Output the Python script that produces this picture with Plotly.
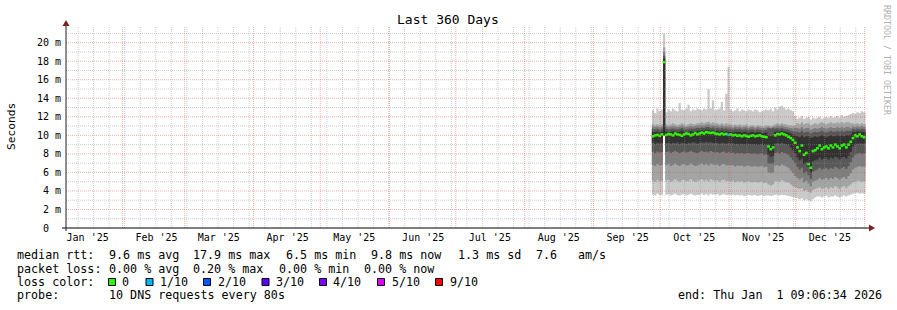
import plotly.graph_objects as go
import pandas as pd

# ---------------- data (values in milliseconds) ----------------
first_sample = "2025-09-27 06:00"          # first consolidated (daily) sample
end_time = "2026-01-01 09:06:34"
axis_start = "2025-01-06 14:24"
axis_end = "2026-01-01 14:24"

median_ms = [
    9.9, 10.0, 10.05, 9.95, 10.1,
    17.9,
    10.05, 10.15, 10.1, 10.0, 10.2, 10.1, 10.05, 9.95, 10.1, 10.2, 10.15, 10.0, 10.1, 10.25, 10.1,
    10.2, 10.3, 10.2, 10.35, 10.3, 10.25, 10.3,
    10.2, 10.15, 10.1, 10.2, 10.1, 10.15, 10.05,
    10.1, 10.0, 10.05, 9.95, 10.0, 9.9, 10.0, 9.95, 9.85, 9.95,
    10.0, 9.9, 9.95, 10.0, 9.9, 9.85, 9.8,
    8.8, 8.5, 8.7,
    10.0, 10.15, 10.1, 10.2, 10.1, 10.0,
    9.85, 9.7, 9.5, 9.2,
    8.7, 8.3, 8.9, 7.9, 8.1,
    6.9, 6.5, 8.3,
    8.4, 8.6, 8.9, 8.5, 8.7, 8.8, 8.6, 8.9, 8.7, 9.0, 8.8, 8.6, 8.9, 9.0, 8.7, 9.0, 9.3,
    9.7, 10.0, 9.9, 10.1, 9.9, 9.8,
]

# sorted-ping smoke boundaries, p1 = lowest ... p10 = highest
p10 = [
    12.7, 12.4, 12.9, 12.6, 12.8,
    21.0,
    12.5, 12.8, 12.6, 12.9, 12.7, 12.6, 13.5, 12.8, 12.7, 12.9, 13.3, 12.6, 12.8, 12.7, 12.9,
    12.8, 12.7, 12.9, 12.8, 15.0, 12.9, 13.8,
    12.7, 12.8, 12.9, 13.6, 12.7, 14.5, 17.4,
    12.8, 12.6, 12.7, 12.9, 12.6, 12.8, 12.7, 12.6, 12.8, 12.7,
    12.6, 12.8, 12.7, 12.5, 12.6, 12.7, 12.8,
    12.7, 12.9, 12.6,
    13.0, 12.8, 13.1, 13.2, 13.0, 12.8,
    12.9, 12.7, 12.6, 12.1,
    11.8, 11.9, 12.1, 11.8, 11.9,
    12.0, 11.7, 11.9,
    11.8, 11.9, 12.0, 11.8, 11.9, 12.0, 11.9, 12.1, 11.9, 12.0, 12.1, 11.9, 12.2, 12.0, 12.1, 12.2, 12.3,
    12.4, 12.3, 12.5, 12.4, 12.6, 12.5,
]
p9 = [
    11.2, 11.1, 11.2, 11.1, 11.2,
    19.5,
    11.2, 11.1, 11.2, 11.3, 11.2, 11.1, 11.2, 11.3, 11.2, 11.1, 11.2, 11.3, 11.2, 11.2, 11.3,
    11.3, 11.4, 11.3, 11.4, 11.5, 11.3, 11.4,
    11.3, 11.3, 11.2, 11.3, 11.2, 11.3, 11.2,
    11.2, 11.1, 11.2, 11.1, 11.2, 11.1, 11.1, 11.2, 11.0, 11.1,
    11.1, 11.0, 11.1, 11.1, 11.0, 11.0, 11.1,
    11.1, 11.0, 11.1,
    11.2, 11.3, 11.2, 11.3, 11.2, 11.2,
    11.1, 11.1, 11.0, 11.1,
    11.3, 11.2, 11.4, 11.2, 11.3,
    11.3, 11.1, 11.2,
    11.3, 11.2, 11.3, 11.4, 11.3, 11.2, 11.3, 11.4, 11.3, 11.3, 11.4, 11.3, 11.4, 11.3, 11.4, 11.4, 11.3,
    11.3, 11.2, 11.3, 11.2, 11.3, 11.2,
]
p8 = [
    10.95, 10.9, 10.95, 10.85, 10.95,
    19.0,
    10.95, 10.9, 10.95, 11.0, 10.95, 10.9, 10.95, 11.05, 10.95, 10.9, 10.95, 11.0, 10.95, 11.0, 11.05,
    11.05, 11.1, 11.05, 11.15, 11.2, 11.05, 11.1,
    11.0, 11.05, 10.95, 11.05, 10.95, 11.0, 10.95,
    10.95, 10.85, 10.95, 10.9, 10.95, 10.85, 10.9, 10.95, 10.8, 10.9,
    10.9, 10.8, 10.9, 10.85, 10.8, 10.8, 10.85,
    10.9, 10.8, 10.9,
    10.95, 11.05, 10.95, 11.05, 10.95, 10.9,
    10.85, 10.8, 10.75, 10.8,
    10.8, 10.7, 10.9, 10.7, 10.8,
    10.8, 10.6, 10.7,
    10.8, 10.7, 10.8, 10.9, 10.8, 10.7, 10.8, 10.9, 10.8, 10.8, 10.9, 10.8, 10.9, 10.8, 10.9, 10.9, 10.8,
    10.95, 10.9, 11.0, 10.9, 11.0, 10.9,
]
p7 = [
    10.7, 10.65, 10.7, 10.6, 10.7,
    18.6,
    10.7, 10.65, 10.7, 10.75, 10.7, 10.65, 10.7, 10.8, 10.7, 10.65, 10.7, 10.75, 10.7, 10.75, 10.8,
    10.8, 10.85, 10.8, 10.9, 10.9, 10.8, 10.85,
    10.75, 10.8, 10.7, 10.8, 10.7, 10.75, 10.7,
    10.7, 10.6, 10.7, 10.65, 10.7, 10.6, 10.65, 10.7, 10.55, 10.65,
    10.65, 10.55, 10.65, 10.6, 10.55, 10.55, 10.6,
    10.8, 10.7, 10.8,
    10.7, 10.8, 10.7, 10.8, 10.7, 10.65,
    10.6, 10.5, 10.45, 10.4,
    10.4, 10.3, 10.5, 10.3, 10.4,
    10.4, 10.2, 10.3,
    10.4, 10.3, 10.4, 10.5, 10.4, 10.3, 10.4, 10.5, 10.4, 10.4, 10.5, 10.4, 10.5, 10.4, 10.5, 10.5, 10.5,
    10.7, 10.65, 10.75, 10.65, 10.7, 10.65,
]
p6 = [
    10.4, 10.35, 10.4, 10.3, 10.4,
    18.3,
    10.4, 10.35, 10.4, 10.45, 10.4, 10.35, 10.4, 10.5, 10.4, 10.35, 10.4, 10.45, 10.4, 10.45, 10.5,
    10.5, 10.55, 10.5, 10.6, 10.6, 10.5, 10.55,
    10.45, 10.5, 10.4, 10.5, 10.4, 10.45, 10.4,
    10.4, 10.3, 10.4, 10.35, 10.4, 10.3, 10.35, 10.4, 10.25, 10.35,
    10.35, 10.25, 10.35, 10.3, 10.25, 10.25, 10.3,
    10.0, 9.9, 10.0,
    10.4, 10.5, 10.4, 10.5, 10.4, 10.35,
    10.3, 10.2, 10.1, 10.0,
    9.9, 9.8, 10.0, 9.8, 9.9,
    9.9, 9.7, 9.8,
    9.9, 9.8, 9.9, 10.0, 9.9, 9.8, 9.9, 10.0, 9.9, 9.9, 10.0, 9.9, 10.0, 9.9, 10.0, 10.0, 10.1,
    10.35, 10.4, 10.45, 10.35, 10.4, 10.35,
]
p5 = [
    9.2, 9.1, 9.2, 9.1, 9.2,
    10.0,
    9.15, 9.2, 9.1, 9.2, 9.15, 9.25, 9.1, 9.2, 9.15, 9.1, 9.2, 9.15, 9.25, 9.2, 9.1,
    9.2, 9.25, 9.2, 9.3, 9.2, 9.25, 9.2,
    9.15, 9.2, 9.1, 9.2, 9.15, 9.1, 9.2,
    9.1, 9.15, 9.05, 9.1, 9.0, 9.1, 9.05, 9.0, 9.1, 9.05,
    9.0, 9.05, 8.95, 9.0, 9.05, 8.95, 9.0,
    7.9, 7.7, 7.8,
    9.1, 9.15, 9.1, 9.2, 9.1, 9.05,
    9.0, 8.7, 8.4, 8.0,
    7.6, 7.3, 7.5, 6.9, 7.1,
    6.6, 6.0, 7.2,
    7.3, 7.4, 7.6, 7.4, 7.5, 7.6, 7.4, 7.6, 7.5, 7.7, 7.6, 7.4, 7.6, 7.7, 7.5, 7.8, 8.2,
    8.8, 9.0, 9.1, 9.15, 9.1, 9.1,
]
p4 = [
    8.2, 8.1, 8.25, 8.15, 8.2,
    10.0,
    8.2, 8.25, 8.1, 8.2, 8.3, 8.2, 8.1, 8.2, 8.25, 8.15, 8.2, 8.3, 8.2, 8.15, 8.1,
    8.2, 8.3, 8.2, 8.25, 8.15, 8.3, 8.2,
    8.15, 8.2, 8.1, 8.2, 8.25, 8.1, 8.2,
    8.1, 8.15, 8.0, 8.1, 8.05, 8.1, 8.0, 8.05, 8.1, 8.0,
    8.0, 8.05, 7.95, 8.0, 8.05, 7.9, 7.95,
    7.0, 6.9, 7.0,
    8.1, 8.15, 8.05, 8.2, 8.1, 8.0,
    7.9, 7.6, 7.3, 7.0,
    6.6, 6.3, 6.5, 5.9, 6.1,
    5.7, 5.3, 6.1,
    6.2, 6.3, 6.5, 6.3, 6.4, 6.5, 6.3, 6.5, 6.4, 6.6, 6.5, 6.3, 6.5, 6.6, 6.4, 6.7, 7.1,
    7.6, 7.9, 8.0, 8.1, 8.0, 8.05,
]
p3 = [
    6.8, 6.7, 6.9, 6.75, 6.8,
    10.0,
    6.8, 6.9, 6.7, 6.8, 6.95, 6.8, 6.7, 6.85, 6.9, 6.75, 6.8, 6.95, 6.8, 6.7, 6.75,
    6.85, 6.95, 6.8, 6.9, 6.75, 6.95, 6.85,
    6.8, 6.85, 6.7, 6.85, 6.9, 6.75, 6.8,
    6.75, 6.8, 6.65, 6.75, 6.7, 6.75, 6.6, 6.7, 6.75, 6.65,
    6.65, 6.7, 6.6, 6.65, 6.7, 6.55, 6.6,
    6.0, 5.9, 6.0,
    6.75, 6.8, 6.7, 6.85, 6.75, 6.65,
    6.5, 6.2, 5.9, 5.6,
    5.4, 5.2, 5.4, 4.9, 5.1,
    4.8, 4.5, 5.0,
    5.1, 5.2, 5.4, 5.2, 5.3, 5.4, 5.2, 5.4, 5.3, 5.5, 5.4, 5.2, 5.4, 5.5, 5.3, 5.6, 5.9,
    6.3, 6.5, 6.6, 6.7, 6.6, 6.65,
]
p2 = [
    5.1, 5.0, 5.2, 5.05, 5.1,
    10.0,
    5.1, 5.2, 5.0, 5.1, 5.25, 5.1, 5.0, 5.15, 5.2, 5.05, 5.1, 5.25, 5.1, 5.0, 5.05,
    5.15, 5.25, 5.1, 5.2, 5.05, 5.25, 5.15,
    5.1, 5.15, 5.0, 5.15, 5.2, 5.05, 5.1,
    5.05, 5.1, 4.95, 5.05, 5.0, 5.05, 4.9, 5.0, 5.05, 4.95,
    4.95, 5.0, 4.9, 4.95, 5.0, 4.85, 4.9,
    4.7, 4.6, 4.7,
    5.05, 5.1, 5.0, 5.15, 5.05, 4.95,
    4.9, 4.7, 4.5, 4.4,
    4.3, 4.2, 4.3, 4.0, 4.1,
    3.9, 3.8, 4.1,
    4.2, 4.3, 4.4, 4.2, 4.3, 4.4, 4.2, 4.4, 4.3, 4.5, 4.4, 4.2, 4.4, 4.5, 4.3, 4.5, 4.7,
    4.9, 5.0, 5.1, 5.1, 5.0, 5.05,
]
p1 = [
    3.6, 3.5, 3.7, 3.55, 3.6,
    10.0,
    3.6, 3.65, 3.5, 3.6, 3.7, 3.55, 3.5, 3.6, 3.65, 3.5, 3.6, 3.7, 3.6, 3.5, 3.55,
    3.6, 3.7, 3.55, 3.65, 3.5, 3.7, 3.6,
    3.6, 3.65, 3.5, 3.6, 3.65, 3.55, 3.6,
    3.55, 3.6, 3.5, 3.55, 3.5, 3.55, 3.45, 3.5, 3.55, 3.5,
    3.5, 3.55, 3.45, 3.5, 3.55, 3.45, 3.5,
    3.5, 3.45, 3.5,
    3.55, 3.6, 3.5, 3.6, 3.55, 3.5,
    3.45, 3.4, 3.35, 3.3,
    3.2, 3.1, 3.2, 3.0, 3.1,
    3.0, 2.9, 3.1,
    3.3, 3.4, 3.4, 3.3, 3.4, 3.5, 3.3, 3.4, 3.4, 3.5, 3.4, 3.3, 3.4, 3.5, 3.4, 3.5, 3.6,
    3.7, 3.75, 3.8, 3.7, 3.75, 3.7,
]

loss_dates = ["2025-10-31 06:00"]
loss_levels = [1]

month_labels = ["Jan '25", "Feb '25", "Mar '25", "Apr '25", "May '25", "Jun '25",
                "Jul '25", "Aug '25", "Sep '25", "Oct '25", "Nov '25", "Dec '25"]
y_tick_vals = [0, 2, 4, 6, 8, 10, 12, 14, 16, 18, 20]
y_tick_text = ["0\u00a0\u00a0", "2 m", "4 m", "6 m", "8 m", "10 m", "12 m",
               "14 m", "16 m", "18 m", "20 m"]

loss_color_names = ["0", "1/10", "2/10", "3/10", "4/10", "5/10", "9/10"]
loss_colors = ["#26ff00", "#00b8ff", "#0059ff", "#5e00ff", "#7e00ff", "#dd00ff", "#ff0000"]
smoke_colors = ["#cacaca", "#a4a4a4", "#7e7e7e", "#585858", "#323232"]

stats_rtt = ["median rtt:", "9.6 ms avg", "17.9 ms max", "6.5 ms min", "9.8 ms now",
             "1.3 ms sd", "7.6", "am/s"]
stats_loss = ["packet loss:", "0.00 % avg", "0.20 % max", "0.00 % min", "0.00 % now"]
probe_text = ["probe:", "10 DNS requests every 80s"]
end_text = "end: Thu Jan\u00a0\u00a01 09:06:34 2026"
title_text = "Last 360 Days"

# ---------------- layout helpers ----------------
W, H = 897, 310
PX_L, PX_R, PX_T, PX_B = 66, 866, 26, 228
Y_MAX = 21.8
MONO = "DejaVu Sans Mono"


def fx(px):
    return px / W


def fy(py):
    return 1 - py / H


dates = list(pd.date_range(first_sample, periods=len(median_ms), freq="D"))
xs = dates + [pd.Timestamp(end_time)]
mids = [d + pd.Timedelta(hours=12) for d in dates]


def ext(vals):
    return list(vals) + [vals[-1]]


fig = go.Figure()

bands = [(p1, p10), (p2, p9), (p3, p8), (p4, p7), (p5, p6)]
for (lo, hi), col in zip(bands, smoke_colors):
    fig.add_trace(go.Scatter(x=xs, y=ext(lo), mode="lines",
                             line=dict(width=0, shape="hv"),
                             hoverinfo="skip", showlegend=False))
    fig.add_trace(go.Scatter(x=xs, y=ext(hi), mode="lines",
                             line=dict(width=0, shape="hv"),
                             fill="tonexty", fillcolor=col,
                             hoverinfo="skip", showlegend=False))

# median drawn as short per-sample dashes coloured by loss
loss_at = {pd.Timestamp(d): l for d, l in zip(loss_dates, loss_levels)}
med_cols = [loss_colors[loss_at.get(d, 0)] for d in dates]
fig.add_trace(go.Scatter(x=mids, y=median_ms, mode="markers",
                         marker=dict(symbol="line-ew", size=2.0,
                                     line=dict(width=2.5, color=med_cols)),
                         showlegend=False))

shapes = []
grid_minor = "rgba(143,143,143,0.45)"
grid_major = "rgba(222,79,79,0.45)"
y0p, y1p = fy(PX_B), fy(PX_T)

# vertical minor grid (weeks)
for d in pd.date_range("2025-01-12", "2026-01-01", freq="W-SUN"):
    shapes.append(dict(type="line", xref="x", yref="paper", x0=d, x1=d, y0=y0p, y1=y1p,
                       line=dict(color=grid_minor, width=1, dash="1px,1px"), layer="above"))
# horizontal minor grid (1 ms)
for v in range(1, 22, 2):
    shapes.append(dict(type="line", xref="paper", yref="y", x0=fx(PX_L), x1=fx(PX_R), y0=v, y1=v,
                       line=dict(color=grid_minor, width=1, dash="1px,1px"), layer="above"))
# vertical major grid (months)
for d in pd.date_range("2025-02-01", "2026-01-01", freq="MS"):
    shapes.append(dict(type="line", xref="x", yref="paper", x0=d, x1=d, y0=y0p, y1=y1p,
                       line=dict(color=grid_major, width=1, dash="1px,1px"), layer="above"))
# horizontal major grid (2 ms)
for v in y_tick_vals[1:]:
    shapes.append(dict(type="line", xref="paper", yref="y", x0=fx(PX_L), x1=fx(PX_R), y0=v, y1=v,
                       line=dict(color=grid_major, width=1, dash="1px,1px"), layer="above"))

# axes with arrows
shapes.append(dict(type="line", xref="paper", yref="paper", x0=fx(62), x1=fx(870),
                   y0=fy(228), y1=fy(228), line=dict(color="#000000", width=1), layer="above"))
shapes.append(dict(type="line", xref="paper", yref="paper", x0=fx(66), x1=fx(66),
                   y0=fy(231), y1=fy(24), line=dict(color="#1f1f1f", width=1), layer="above"))
shapes.append(dict(type="path", xref="paper", yref="paper",
                   path=f"M {fx(869)},{fy(224.5)} L {fx(869)},{fy(231.5)} L {fx(875)},{fy(228)} Z",
                   fillcolor="#801f1f", line=dict(color="#801f1f", width=0), layer="above"))
shapes.append(dict(type="path", xref="paper", yref="paper",
                   path=f"M {fx(62.5)},{fy(26)} L {fx(69.5)},{fy(26)} L {fx(66)},{fy(20)} Z",
                   fillcolor="#801f1f", line=dict(color="#801f1f", width=0), layer="above"))

# legend colour boxes
box_left = [108.5, 146, 203.5, 262, 319.5, 377.5, 435.5]
for bx, col in zip(box_left, loss_colors):
    shapes.append(dict(type="rect", xref="paper", yref="paper",
                       x0=fx(bx), x1=fx(bx + 7), y0=fy(285.5), y1=fy(278.5),
                       fillcolor=col, line=dict(color="#000000", width=1), layer="above"))

annotations = []


def text(s, x, y, size=11.7, anchor="left", color="#000000", angle=0):
    annotations.append(dict(text=s, x=fx(x), y=fy(y), xref="paper", yref="paper",
                            xanchor=anchor, yanchor="middle", showarrow=False,
                            borderpad=0, borderwidth=0, textangle=angle,
                            font=dict(family=MONO, size=size, color=color)))


text(title_text, 447.5, 19.5, size=13, anchor="center")
text("Seconds", 11, 127, size=11.2, anchor="center", angle=-90)
text("RRDTOOL / TOBI OETIKER", 887, 60, size=8.3, anchor="center", color="#b0b0b0", angle=90)

for s, x in zip(stats_rtt, [16.7, 108.5, 193, 285.5, 371, 457.5, 535.5, 578]):
    text(s, x, 255)
for s, x in zip(stats_loss, [16.7, 108.5, 193, 278.5, 364]):
    text(s, x, 268.5)
text("loss color:", 16.7, 281.8)
for s, x in zip(loss_color_names, [121.7, 160, 217.7, 276, 333.3, 391.7, 450]):
    text(s, x, 281.8)
text(probe_text[0], 16.7, 295)
text(probe_text[1], 108.5, 295)
text(end_text, 678.3, 295)

month_starts = pd.date_range("2025-01-01", "2025-12-01", freq="MS")
x_tick_vals = [m + pd.Timedelta(days=15, hours=8) for m in month_starts]

fig.update_layout(
    width=W, height=H,
    margin=dict(l=0, r=0, t=0, b=0),
    paper_bgcolor="#ffffff", plot_bgcolor="#ffffff",
    showlegend=False,
    shapes=shapes, annotations=annotations,
    xaxis=dict(type="date", range=[axis_start, axis_end],
               domain=[fx(PX_L), fx(PX_R)],
               showgrid=False, zeroline=False, showline=False, ticks="",
               tickmode="array", tickvals=x_tick_vals, ticktext=month_labels,
               tickfont=dict(family=MONO, size=10, color="#000000"),
               ticklabelstandoff=2, automargin=False, fixedrange=True),
    yaxis=dict(range=[0, Y_MAX], domain=[fy(PX_B), fy(PX_T)],
               showgrid=False, zeroline=False, showline=False, ticks="",
               tickmode="array", tickvals=y_tick_vals, ticktext=y_tick_text,
               tickfont=dict(family=MONO, size=10, color="#000000"),
               ticklabelstandoff=4, automargin=False, fixedrange=True),
)

fig.write_html("out.html")
